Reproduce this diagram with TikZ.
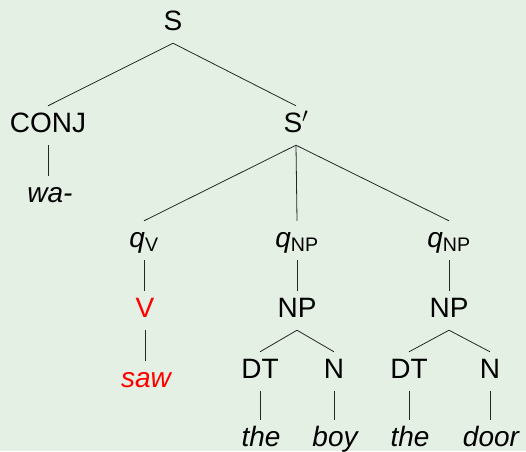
\documentclass[tikz,border=0pt]{standalone}
\usepackage{fontspec}
\setmainfont{Liberation Sans}
\definecolor{bgpanel}{RGB}{229,240,228}
\definecolor{hilite}{RGB}{255,0,0}
\begin{document}
\begin{tikzpicture}[x=1pt,y=-1pt,
  lbl/.style={anchor=base,inner xsep=0pt,inner ysep=6pt,
    text height=20pt,text depth=7pt,
    font=\fontsize{28}{34}\selectfont},
  word/.style={lbl,font=\fontsize{28}{34}\selectfont\itshape},
  branch/.style={line width=0.8pt,draw=black!85}]
\fill[bgpanel] (0,0) rectangle (526,451);
\useasboundingbox (0,0) rectangle (526,451);

% top levels
\node[lbl] (S) at (173,30) {S};
\node[lbl] (conj) at (48,132) {CONJ};
\node[lbl] (Sp) at (296,132) {S$'$};
\node[word] (wa) at (50,202) {wa-};

% verb branch
\node[lbl] (qv) at (144,247) {\textit{q}\textsubscript{V}};
\node[lbl,text=hilite] (v) at (145,317) {V};
\node[word,text=hilite] (saw) at (146,387) {saw};

% first noun phrase
\node[lbl] (qnpa) at (297,247) {\textit{q}\textsubscript{NP}};
\node[lbl] (npa) at (297,317) {NP};
\node[lbl] (dta) at (260,378) {DT};
\node[lbl] (na) at (334,378) {N};
\node[word] (thea) at (261,446) {the};
\node[word] (boy) at (335,446) {boy};

% second noun phrase
\node[lbl] (qnpb) at (449,247) {\textit{q}\textsubscript{NP}};
\node[lbl] (npb) at (449,317) {NP};
\node[lbl] (dtb) at (409,378) {DT};
\node[lbl] (nb) at (490,378) {N};
\node[word] (theb) at (410,446) {the};
\node[word] (door) at (491,446) {door};

% branches
\draw[branch] (S.south) -- (conj.north);
\draw[branch] (S.south) -- (Sp.north);
\draw[branch] (conj.south) -- (conj.south |- wa.north);
\draw[branch] (Sp.south) -- (qv.north);
\draw[branch] (Sp.south) -- (qnpa.north);
\draw[branch] (Sp.south) -- (qnpb.north);
\draw[branch] (qv.south) -- (qv.south |- v.north);
\draw[branch] (v.south) -- (v.south |- saw.north);
\draw[branch] (qnpa.south) -- (npa.north);
\draw[branch] (qnpb.south) -- (npb.north);
\draw[branch] (npa.south) -- (dta.north);
\draw[branch] (npa.south) -- (na.north);
\draw[branch] (npb.south) -- (dtb.north);
\draw[branch] (npb.south) -- (nb.north);
\draw[branch] (dta.south) -- (dta.south |- thea.north);
\draw[branch] (na.south) -- (na.south |- boy.north);
\draw[branch] (dtb.south) -- (dtb.south |- theb.north);
\draw[branch] (nb.south) -- (nb.south |- door.north);
\end{tikzpicture}
\end{document}
